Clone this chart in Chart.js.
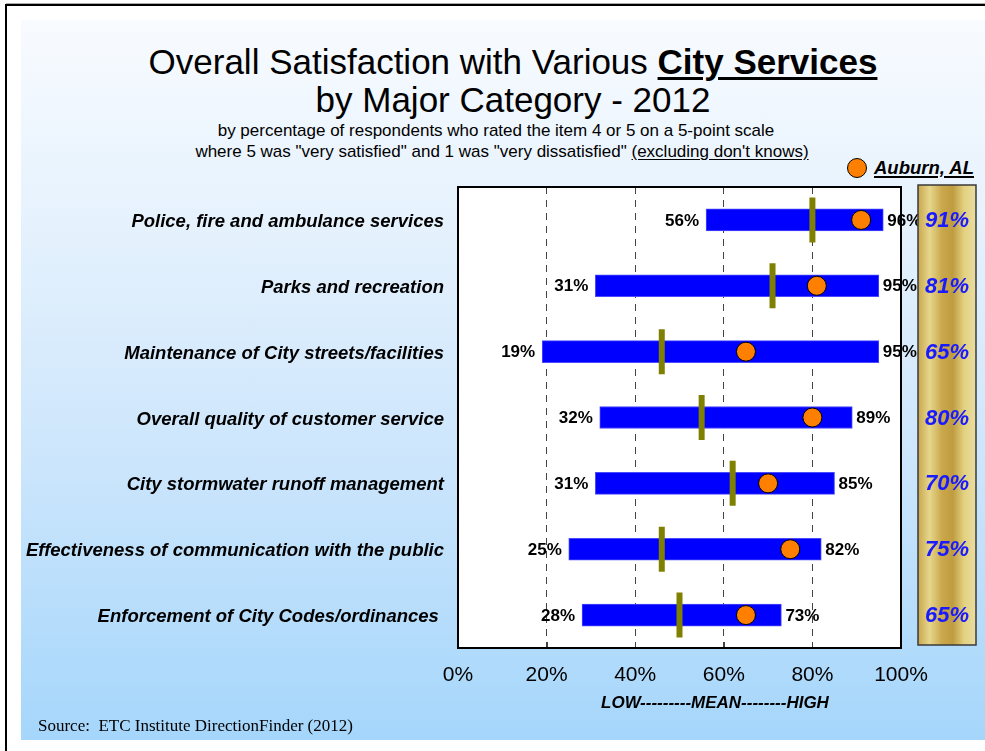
<!DOCTYPE html>
<html>
<head>
<meta charset="utf-8">
<script src="https://cdn.jsdelivr.net/npm/chart.js@4"></script>
<style>
  html, body { margin: 0; padding: 0; }
  body {
    width: 985px; height: 751px; position: relative; overflow: hidden;
    background: #fff; font-family: "Liberation Sans", Arial, sans-serif; color: #000;
  }
  #frameTop { position: absolute; left: 6px; top: 3px; width: 979px; height: 2px; background: #000; border-top: 1px solid #aaa; }
  #frameLeft { position: absolute; left: 5px; top: 4px; width: 2px; height: 747px; background: #000; }
  #panel {
    position: absolute; left: 21px; top: 20px; width: 964px; height: 720px;
    background: linear-gradient(to bottom, #f8fbff 0%, #e4f1fd 30%, #cde6fc 60%, #a5d6fb 100%);
  }
  .txt { position: absolute; white-space: nowrap; transform: translateX(-50%); }
  #title1, #title2 { font-size: 35px; line-height: 35px; }
  #title1 b { text-decoration: underline; text-decoration-thickness: 3px; text-underline-offset: 3px; }
  #sub1, #sub2 { font-size: 17px; line-height: 20px; }
  #sub2 u { text-underline-offset: 2px; }
  #scaleNote { font-size: 17px; line-height: 20px; font-weight: bold; font-style: italic; }
  #source { position: absolute; left: 38px; top: 716px; font-family: "Liberation Serif", "Times New Roman", serif; font-size: 17px; white-space: pre; }
  #legend { position: absolute; left: 846px; top: 157px; height: 22px; white-space: nowrap; }
  #legend .dot { position: absolute; left: 1px; top: 1px; width: 18px; height: 18px; border-radius: 50%; background: #ff8000; border: 1px solid #000; }
  #legend .lbl { position: absolute; left: 28px; top: 0; font-size: 18.5px; line-height: 22px; font-weight: bold; font-style: italic; text-decoration: underline; text-decoration-thickness: 2px; text-underline-offset: 2px; }
  #chart { position: absolute; left: 0; top: 0; }
</style>
</head>
<body>
<div id="frameTop"></div>
<div id="frameLeft"></div>
<div id="panel"></div>

<div id="title1" class="txt" style="left:513px; top:44px;">Overall Satisfaction with Various <b>City Services</b></div>
<div id="title2" class="txt" style="left:513px; top:82px;">by Major Category - 2012</div>
<div id="sub1" class="txt" style="left:496px; top:121px;">by percentage of respondents who rated the item 4 or 5 on a 5-point scale</div>
<div id="sub2" class="txt" style="left:502px; top:142px;">where 5 was "very satisfied" and 1 was "very dissatisfied" <u>(excluding don't knows)</u></div>

<div id="legend"><span class="dot"></span><span class="lbl">Auburn, AL</span></div>

<canvas id="chart" width="985" height="751"></canvas>

<div id="scaleNote" class="txt" style="left:715px; top:693px;">LOW---------MEAN--------HIGH</div>
<div id="source">Source:  ETC Institute DirectionFinder (2012)</div>

<script>
// Survey results, percent satisfied (4 or 5 on a 5-point scale)
const categories = [
    'Police, fire and ambulance services',
    'Parks and recreation',
    'Maintenance of City streets/facilities',
    'Overall quality of customer service',
    'City stormwater runoff management',
    'Effectiveness of communication with the public',
    'Enforcement of City Codes/ordinances '
];
const lowValues = [56, 31, 19, 32, 31, 25, 28];
const highValues = [96, 95, 95, 89, 85, 82, 73];
const meanValues = [80, 71, 46, 55, 62, 46, 50];
const auburnValues = [91, 81, 65, 80, 70, 75, 65];
const xTicks = [0, 20, 40, 60, 80, 100];

const FONT = '"Liberation Sans", Arial, sans-serif';

// white plot box behind the grid, black frame on top
const plotBox = {
    id: 'plotBox',
    beforeDraw(chart) {
        const { ctx, chartArea: a } = chart;
        ctx.save();
        ctx.fillStyle = '#fff';
        ctx.fillRect(a.left, a.top, a.right - a.left, a.bottom - a.top);
        ctx.restore();
    },
    afterDraw(chart) {
        const { ctx, chartArea: a, scales } = chart;
        ctx.save();
        // small solid tick marks along the bottom edge
        ctx.strokeStyle = '#444';
        ctx.lineWidth = 1;
        xTicks.slice(1, -1).forEach(v => {
            const x = Math.round(scales.x.getPixelForValue(v)) + 0.5;
            ctx.beginPath();
            ctx.moveTo(x, a.bottom - 6);
            ctx.lineTo(x, a.bottom);
            ctx.stroke();
        });
        ctx.strokeStyle = '#000';
        ctx.lineWidth = 2;
        ctx.strokeRect(a.left, a.top, a.right - a.left, a.bottom - a.top);
        ctx.restore();
    }
};

// low / high percentages beside each bar
const rangeLabels = {
    id: 'rangeLabels',
    afterDatasetsDraw(chart) {
        const { ctx, scales } = chart;
        ctx.save();
        ctx.font = 'bold 17px ' + FONT;
        ctx.fillStyle = '#000';
        ctx.textBaseline = 'middle';
        categories.forEach((c, i) => {
            const y = scales.y.getPixelForValue(i) + 1;
            ctx.textAlign = 'right';
            ctx.fillText(lowValues[i] + '%', scales.x.getPixelForValue(lowValues[i]) - 7, y);
            ctx.textAlign = 'left';
            ctx.fillText(highValues[i] + '%', scales.x.getPixelForValue(highValues[i]) + 4, y);
        });
        ctx.restore();
    }
};

// gold column with the Auburn values
const auburnColumn = {
    id: 'auburnColumn',
    afterDraw(chart) {
        const { ctx, chartArea: a, scales } = chart;
        const left = a.right + 17, right = a.right + 75;
        const top = a.top - 2, bottom = a.bottom - 3;
        ctx.save();
        const g = ctx.createLinearGradient(left, 0, right, 0);
        g.addColorStop(0, '#c8a74d');
        g.addColorStop(0.2, '#e6d68c');
        g.addColorStop(0.42, '#c9a74a');
        g.addColorStop(0.6, '#bf9c3f');
        g.addColorStop(0.8, '#e3d282');
        g.addColorStop(1, '#e9dda2');
        ctx.fillStyle = g;
        ctx.fillRect(left, top, right - left, bottom - top);
        ctx.strokeStyle = '#3a3a3a';
        ctx.lineWidth = 1.5;
        ctx.strokeRect(left, top, right - left, bottom - top);
        ctx.font = 'italic bold 22px ' + FONT;
        ctx.fillStyle = '#1a1aff';
        ctx.textAlign = 'center';
        ctx.textBaseline = 'middle';
        auburnValues.forEach((v, i) => {
            ctx.fillText(v + '%', (left + right) / 2, scales.y.getPixelForValue(i) + 1);
        });
        ctx.restore();
    }
};

new Chart(document.getElementById('chart'), {
    type: 'bar',
    data: {
        labels: categories,
        datasets: [
            {
                type: 'line',
                label: 'Auburn, AL',
                data: auburnValues.map((v, i) => ({ x: v, y: categories[i] })),
                showLine: false,
                pointStyle: 'circle',
                pointRadius: 9.5,
                pointBackgroundColor: '#ff8000',
                pointBorderColor: '#000',
                pointBorderWidth: 1,
                order: 0
            },
            {
                type: 'line',
                label: 'Mean',
                data: meanValues.map((v, i) => ({ x: v, y: categories[i] })),
                showLine: false,
                pointStyle: 'line',
                pointRotation: 90,
                pointRadius: 22.5,
                pointBorderColor: '#808000',
                pointBorderWidth: 6,
                order: 1
            },
            {
                label: 'Range',
                data: lowValues.map((v, i) => [v, highValues[i]]),
                backgroundColor: '#0000ff',
                borderColor: '#4a4aff',
                borderWidth: 1,
                borderSkipped: false,
                barThickness: 22,
                order: 2
            }
        ]
    },
    options: {
        indexAxis: 'y',
        responsive: false,
        animation: false,
        devicePixelRatio: 1,
        layout: { padding: { top: 187, right: 84, bottom: 63, left: 0 } },
        plugins: {
            legend: { display: false },
            tooltip: { enabled: false }
        },
        scales: {
            x: {
                type: 'linear',
                min: 0,
                max: 100,
                afterBuildTicks: scale => { scale.ticks = xTicks.map(v => ({ value: v })); },
                afterFit: scale => { scale.height = 40; },
                ticks: {
                    callback: v => v + '%',
                    color: '#000',
                    font: { family: FONT, size: 21 },
                    padding: 15,
                    maxRotation: 0
                },
                grid: {
                    drawTicks: false,
                    color: ctx => (ctx.tick && (ctx.tick.value === 0 || ctx.tick.value === 100)) ? 'rgba(0,0,0,0)' : '#444',
                    lineWidth: 1
                },
                border: { display: false, dash: [7, 6] }
            },
            y: {
                type: 'category',
                afterFit: scale => { scale.width = 458; },
                ticks: {
                    color: '#000',
                    font: { family: FONT, size: 18.5, weight: 'bold', style: 'italic' },
                    padding: 14,
                    labelOffset: 2
                },
                grid: { display: false, drawTicks: false },
                border: { display: false }
            }
        }
    },
    plugins: [plotBox, rangeLabels, auburnColumn]
});
</script>
</body>
</html>
